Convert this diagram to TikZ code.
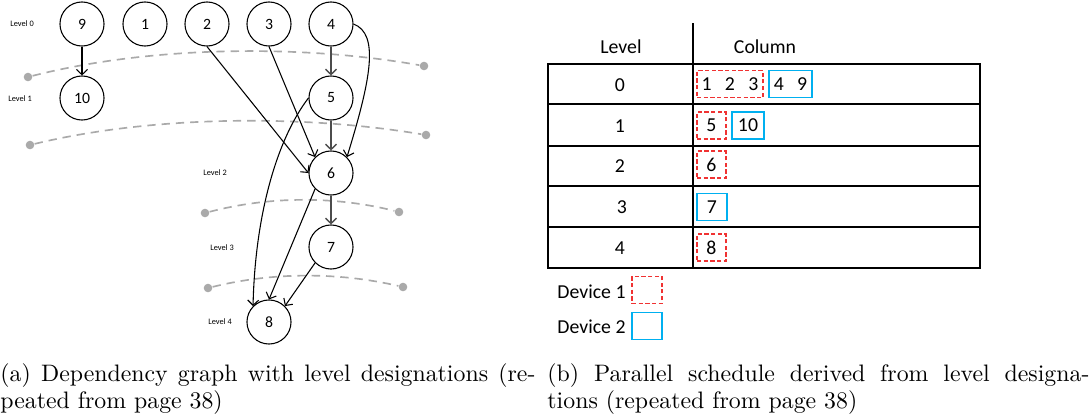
\documentclass[tikz,border=0pt]{standalone}
\usepackage{fontspec}
\newfontfamily\carl{Carlito}
\usetikzlibrary{arrows.meta}
\definecolor{devred}{RGB}{240,50,50}
\definecolor{devblue}{RGB}{0,176,240}
\definecolor{sepgray}{RGB}{170,170,170}
\begin{document}
\begin{tikzpicture}[x=0.42pt,y=-0.42pt,
  gnode/.style={circle,draw,line width=0.45pt,minimum size=18.5pt,inner sep=0pt,font=\carl\fontsize{6.6}{7}\selectfont},
  lvltext/.style={font=\carl\fontsize{3.5}{4}\selectfont,inner sep=0pt},
  arr/.style={line width=0.45pt,-{Straight Barb[length=2.2pt,width=4.6pt]}},
  garr/.style={arr,draw=black!70,line width=0.6pt},
  levelsep/.style={draw=sepgray,line width=0.7pt,dash pattern=on 3.5pt off 2.5pt},
  sepdot/.style={circle,fill=sepgray,inner sep=0pt,minimum size=3.6pt},
  tline/.style={line width=0.5pt},
  ttext/.style={font=\carl\fontsize{8.3}{10}\selectfont,inner sep=0pt},
  dbox/.style={inner sep=0pt,minimum height=11.3pt,font=\carl\fontsize{8.3}{10}\selectfont},
  devone/.style={dbox,draw=devred,line width=0.5pt,dash pattern=on 1.8pt off 1pt},
  devtwo/.style={dbox,draw=devblue,line width=0.6pt},
  captext/.style={anchor=north west,inner sep=0pt,text width=535*0.42pt,align=justify,font=\fontsize{10}{11.4}\selectfont}
]
\useasboundingbox (0,0) rectangle (1091,420);

% ---------- (a) dependency graph ----------
\node[gnode] (n9) at (82,24) {9};
\node[gnode] (n1) at (145,24) {1};
\node[gnode] (n2) at (207,24) {2};
\node[gnode] (n3) at (269,24) {3};
\node[gnode] (n4) at (331,24) {4};
\node[gnode] (n10) at (82,98) {10};
\node[gnode] (n5) at (331,98) {5};
\node[gnode] (n6) at (331,173) {6};
\node[gnode] (n7) at (331,247) {7};
\node[gnode] (n8) at (269,322) {8};

\node[lvltext] (l0) at (22,24) {Level 0};
\node[lvltext] (l1) at (20,99) {Level 1};
\node[lvltext] (l2) at (215,173) {Level 2};
\node[lvltext] (l3) at (222,248) {Level 3};
\node[lvltext] (l4) at (220,322) {Level 4};

% level separators
\node[sepdot] (s1a) at (28,77) {};  \node[sepdot] (s1b) at (424,66) {};
\node[sepdot] (s2a) at (30,145) {}; \node[sepdot] (s2b) at (426,135) {};
\node[sepdot] (s3a) at (205,213) {};\node[sepdot] (s3b) at (399,212) {};
\node[sepdot] (s4a) at (208,288) {};\node[sepdot] (s4b) at (403,287) {};
\draw[levelsep] (s1a) .. controls (150,46) and (300,44) .. (s1b);
\draw[levelsep] (s2a) .. controls (150,116) and (300,114) .. (s2b);
\draw[levelsep] (s3a) .. controls (270,196) and (335,196) .. (s3b);
\draw[levelsep] (s4a) .. controls (273,272) and (338,272) .. (s4b);

% edges
\draw[arr] (n9) -- (n10);
\draw[garr] (n4) -- (n5);
\draw[garr] (n5) -- (n6);
\draw[garr] (n6) -- (n7);
\draw[arr] (n2.south) -- (n6.west);
\draw[arr] (n3.south) -- (n6.north west);
\draw[arr] (n4.east) .. controls +(26,10) and +(24,-78) .. (n6.north east);
\draw[arr] (n5.west) .. controls +(-32,42) and +(2,-90) .. (n8.north west);
\draw[arr] (n6.south west) -- (n8.north);
\draw[arr] (n7.south west) -- (n8.north east);

% ---------- (b) schedule table ----------
\draw[tline] (693,23) -- (693,268);
\draw[tline] (548,64) rectangle (980,268);
\foreach \yy in {104,146,186,227}{\draw[tline] (548,\yy) -- (980,\yy);}

\node[ttext] (hl) at (621,47) {Level};
\node[ttext] (hc) at (765,47) {Column};
\node[ttext] (r0) at (620,85) {0};
\node[ttext] (r1) at (620,126) {1};
\node[ttext] (r2) at (620,166) {2};
\node[ttext] (r3) at (622,207) {3};
\node[ttext] (r4) at (620,248) {4};

\node[devone,minimum width=66*0.42pt] (c0a) at (730,84) {1\hspace{5.6pt}2\hspace{5.6pt}3};
\node[devtwo,minimum width=43*0.42pt] (c0b) at (790.5,84) {4\hspace{5.6pt}9};
\node[devone,minimum width=29*0.42pt] (c1a) at (711.5,125.5) {5};
\node[devtwo,minimum width=32*0.42pt] (c1b) at (748,125.5) {10};
\node[devone,minimum width=29*0.42pt] (c2a) at (711.5,164.5) {6};
\node[devtwo,minimum width=30*0.42pt] (c3a) at (712,207) {7};
\node[devone,minimum width=29*0.42pt] (c4a) at (711.5,247.5) {8};

% legend
\node[ttext] (d1) at (591.5,292) {Device 1};
\node[devone,minimum width=30*0.42pt] (d1b) at (647,290) {};
\node[ttext] (d2) at (591.5,327) {Device 2};
\node[devtwo,minimum width=30*0.42pt] (d2b) at (647,326) {};

% ---------- captions ----------
\node[captext] (capa) at (0,363) {(a) Dependency graph with level designations (re-\linebreak peated from page 38)};
\node[captext,text width=542*0.42pt] (capb) at (547,363) {(b) Parallel schedule derived from level designa-\linebreak tions (repeated from page 38)};
\end{tikzpicture}
\end{document}
